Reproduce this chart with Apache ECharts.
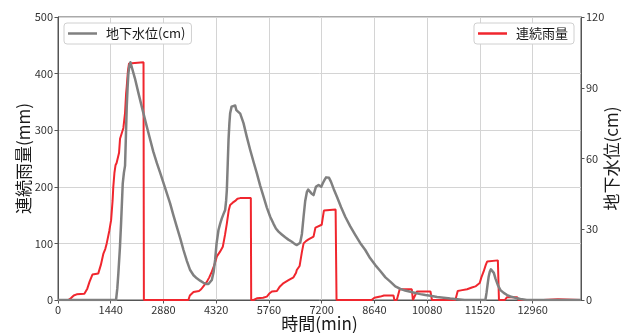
<!DOCTYPE html>
<html>
<head>
<meta charset="utf-8">
<script src="https://cdn.jsdelivr.net/npm/echarts@6/dist/echarts.min.js"></script>
<style>
  html, body { margin: 0; padding: 0; background: #fff; }
  #chart { width: 630px; height: 333px; }
</style>
</head>
<body>
<div id="chart"></div>
<script>
// Continuous rainfall (mm): [time in min, value]
const rainPoints = [
  [0, 0], [280, 0], [350, 3], [430, 8], [510, 10], [720, 11], [800, 20], [860, 32],
  [940, 45], [1100, 47], [1170, 62], [1240, 82], [1290, 90], [1330, 100], [1400, 122],
  [1450, 141], [1490, 175], [1510, 200], [1540, 224], [1570, 238], [1600, 242],
  [1667, 260], [1694, 285], [1713, 287], [1785, 304], [1812, 305], [1830, 330],
  [1860, 365], [1877, 377], [1910, 405], [1940, 418], [1970, 420], [2335, 420], [2345, 0],
  [3560, 0], [3600, 8], [3700, 14], [3850, 16], [3908, 19], [3980, 25], [4063, 32],
  [4130, 40], [4200, 50], [4270, 62], [4337, 77], [4420, 85], [4500, 94], [4560, 115],
  [4610, 135], [4660, 158], [4700, 168], [4770, 172], [4838, 175], [4900, 179],
  [4974, 180], [5265, 180], [5275, 0],
  [5340, 0], [5430, 3], [5600, 4], [5703, 6], [5780, 12], [5840, 15], [5977, 16],
  [6060, 24], [6160, 30], [6294, 35], [6430, 40], [6500, 48], [6520, 53], [6596, 60],
  [6660, 85], [6706, 100], [6770, 104], [6840, 107], [6977, 112], [7030, 128],
  [7045, 131], [7200, 133], [7260, 158], [7278, 160], [7580, 160], [7605, 0],
  [8560, 0], [8640, 4], [8800, 6], [8900, 8], [9160, 8], [9185, 0], [9250, 0],
  [9330, 19], [9660, 19], [9690, 0], [9740, 0], [9800, 15], [10170, 15], [10210, 0],
  [10850, 0], [10914, 16], [11000, 17], [11170, 19], [11300, 22], [11397, 24],
  [11515, 30], [11560, 40], [11620, 50], [11680, 62], [11717, 68], [11760, 70],
  [12010, 70], [12040, 0], [12200, 0], [12260, 5], [12536, 5], [12570, 0],
  [13250, 0], [13270, 1.5], [13650, 1.5], [13670, 0], [14280, 0]
];

// Groundwater level (cm): [time in min, value]
const groundwaterPoints = [
  [0, 0], [1585, 0], [1620, 5], [1648, 11.3], [1690, 22], [1722, 32.5], [1768, 49.5],
  [1800, 54], [1831, 57], [1855, 70], [1877, 82], [1900, 90], [1922, 96], [1950, 99.5],
  [1977, 100.8], [2010, 100], [2100, 94], [2200, 87.5], [2287, 82], [2400, 75],
  [2500, 69], [2600, 63], [2700, 58], [2788, 54], [2924, 47.5], [3061, 41], [3150, 36],
  [3244, 31], [3340, 26], [3426, 21.2], [3520, 16.5], [3608, 12.7], [3700, 10.5],
  [3790, 9.2], [3880, 8.2], [3972, 7.3], [4050, 6.8], [4108, 6.8], [4160, 7.4],
  [4200, 8.5], [4250, 12], [4290, 17], [4330, 24], [4382, 29.7], [4430, 32.5],
  [4473, 34.6], [4520, 36.5], [4564, 38.2], [4590, 42], [4610, 46.6], [4635, 58],
  [4656, 67.9], [4680, 75], [4700, 79.2], [4740, 82], [4775, 82.7], [4838, 82.5],
  [4870, 80.5], [4911, 79.9], [4975, 79], [5020, 77], [5065, 75], [5150, 69.5],
  [5248, 63.6], [5340, 58.5], [5430, 53.7], [5520, 48.5], [5612, 43.8], [5700, 39.3],
  [5794, 35.3], [5885, 32.3], [5950, 30.3], [6021, 29], [6110, 27.8], [6203, 26.6],
  [6290, 25.6], [6386, 24.7], [6460, 23.8], [6522, 23.3], [6570, 23.5], [6613, 24.3],
  [6660, 28], [6705, 35.3], [6750, 42], [6797, 45.9], [6830, 46.8], [6860, 46.6],
  [6920, 45.2], [6977, 44.5], [7010, 46.3], [7042, 48], [7115, 48.8], [7150, 48.2],
  [7188, 48], [7230, 49.5], [7278, 50.9], [7320, 52], [7361, 52.6], [7400, 51.8],
  [7452, 50.2], [7530, 47], [7616, 43.8], [7730, 39.3], [7843, 35.3], [7980, 31.2],
  [8116, 27.6], [8250, 24.2], [8390, 21.2], [8520, 17.8], [8663, 14.8], [8800, 12.3],
  [8940, 9.6], [9073, 7.8], [9210, 5.8], [9347, 4.7], [9480, 4], [9620, 3.5],
  [9760, 3], [9893, 2.5], [10030, 2.1], [10167, 1.8], [10350, 1.3], [10531, 1],
  [10710, 0.6], [10896, 0.3], [11100, 0], [11670, 0], [11700, 3], [11734, 7.1],
  [11760, 10], [11789, 12], [11820, 13], [11853, 13], [11900, 11.5], [11943, 9.2],
  [12010, 6.3], [12080, 4.2], [12170, 3], [12262, 2.1], [12350, 1.5], [12444, 1.1],
  [12530, 0.7], [12626, 0.4], [12800, 0], [14280, 0]
];

// Axis ranges and tick steps
const timeRange = [0, 14280];
const timeStep = 1440;
const rainRange = [0, 500];
const rainStep = 100;
const levelRange = [0, 120];
const levelStep = 30;

const FONT = '"Noto Sans CJK JP", "Noto Sans", sans-serif';
const RAIN_NAME = '連続雨量';
const LEVEL_NAME = '地下水位(cm)';

const chart = echarts.init(document.getElementById('chart'), null, { renderer: 'canvas' });

const axisLine = { show: true, lineStyle: { color: '#555', width: 1 } };
const axisTick = { show: true, length: 3.5, lineStyle: { color: '#555' } };
const tickText = { color: '#333', fontSize: 11, fontFamily: FONT };
const nameText = { color: '#1a1a1a', fontSize: 17, fontFamily: FONT };

const legendBase = {
  top: 23,
  orient: 'horizontal',
  icon: 'rect',
  itemWidth: 29,
  itemHeight: 2.5,
  backgroundColor: '#fff',
  borderColor: '#d0d0d0',
  borderWidth: 1,
  borderRadius: 3,
  padding: [4, 6, 4, 4],
  textStyle: { color: '#1a1a1a', fontSize: 13, fontFamily: FONT, padding: [0, 0, 0, 4] },
  selectedMode: false
};

chart.setOption({
  animation: false,
  backgroundColor: '#fff',
  grid: {
    left: 58, right: 49, top: 17, bottom: 33,
    outerBoundsMode: 'none',
    show: true, borderColor: '#555', borderWidth: 1, containLabel: false
  },
  legend: [
    Object.assign({}, legendBase, { left: 64, data: [LEVEL_NAME] }),
    Object.assign({}, legendBase, { right: 56, data: [RAIN_NAME] })
  ],
  xAxis: {
    type: 'value',
    min: timeRange[0], max: timeRange[1], interval: timeStep,
    name: '時間(min)', nameLocation: 'middle', nameGap: 15, nameMoveOverlap: false,
    nameTextStyle: nameText,
    axisLine: axisLine, axisTick: axisTick,
    axisLabel: Object.assign({}, tickText, { margin: 4, showMaxLabel: false,
      formatter: v => (v % timeStep === 0 ? String(v) : '') }),
    splitLine: { show: true, lineStyle: { color: '#d4d4d4', width: 1 } }
  },
  yAxis: [
    {
      type: 'value', position: 'left',
      min: rainRange[0], max: rainRange[1], interval: rainStep,
      name: '連続雨量(mm)', nameLocation: 'middle', nameRotate: 90, nameGap: 26,
      nameMoveOverlap: false,
      nameTextStyle: nameText,
      axisLine: axisLine, axisTick: axisTick,
      axisLabel: Object.assign({}, tickText, { margin: 5 }),
      splitLine: { show: true, lineStyle: { color: '#d4d4d4', width: 1 } }
    },
    {
      type: 'value', position: 'right',
      min: levelRange[0], max: levelRange[1], interval: levelStep,
      name: '地下水位(cm)', nameLocation: 'middle', nameRotate: 90, nameGap: 22,
      nameMoveOverlap: false,
      nameTextStyle: nameText,
      axisLine: axisLine, axisTick: axisTick,
      axisLabel: Object.assign({}, tickText, { margin: 5 }),
      splitLine: { show: false }
    }
  ],
  series: [
    {
      name: RAIN_NAME, type: 'line', yAxisIndex: 0,
      data: rainPoints, showSymbol: false, symbol: 'none',
      lineStyle: { color: '#f0262e', width: 2 }, itemStyle: { color: '#f0262e' },
      z: 2
    },
    {
      name: LEVEL_NAME, type: 'line', yAxisIndex: 1,
      data: groundwaterPoints, showSymbol: false, symbol: 'none',
      lineStyle: { color: '#808080', width: 2.5, join: 'round' }, itemStyle: { color: '#808080' },
      z: 3
    }
  ]
});
</script>
</body>
</html>
